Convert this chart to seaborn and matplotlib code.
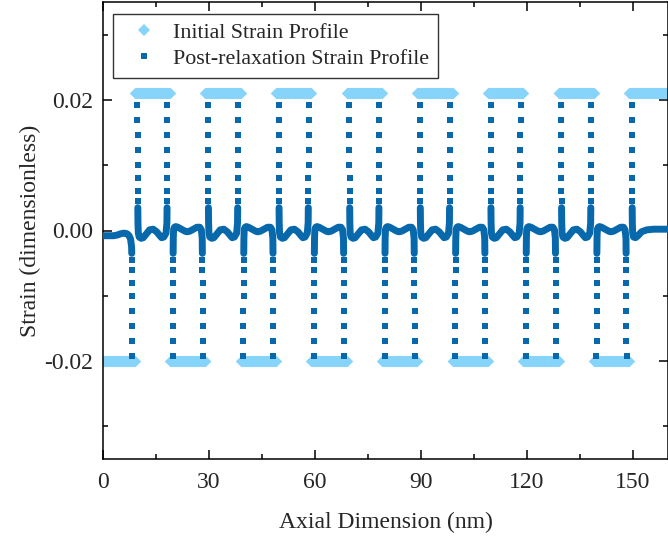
import numpy as np
import pandas as pd
import matplotlib
matplotlib.use("Agg")
import matplotlib.pyplot as plt
import seaborn as sns
from matplotlib.lines import Line2D

# ---- data -------------------------------------------------------------
# axial positions of the layer interfaces (nm)
interfaces = [9.0, 19.0, 29.0, 39.0, 49.0, 59.0, 69.0, 79.0,
              89.0, 99.0, 109.0, 119.0, 129.0, 139.0, 149.0]
x_min, x_max = 0.0, 160.0
# initial (as-grown) strain of the compressive / tensile layers
compressive_strain = -0.020
tensile_strain = 0.021
sample_step = 0.25  # nm between profile samples

# relaxed strain: steep column next to every interface (magnitudes)
spike_offset = 0.74  # nm from the interface
spike_levels = [0.0192, 0.0169, 0.0146, 0.0123, 0.0101, 0.0080, 0.0061, 0.0045]

# relaxed strain inside a tensile layer: (nm from left interface, strain)
tensile_x = [0.86, 0.90, 1.0, 1.25, 1.8, 2.4, 3.3, 4.2, 5.2, 6.2, 7.1, 7.6, 8.2, 8.85, 9.10, 9.14]
tensile_y = [0.0035, 0.0012, -0.0004, -0.0010, -0.0012, -0.0011, -0.0005, 0.0001, 0.0002,
             -0.0002, -0.0008, -0.0011, -0.0010, -0.0004, 0.0012, 0.0035]
# relaxed strain inside a compressive layer
compressive_x = [0.86, 0.90, 1.0, 1.25, 1.6, 2.2, 3.2, 4.2, 4.8, 5.6, 6.6, 7.6, 8.4, 8.85, 9.10, 9.14]
compressive_y = [-0.0035, -0.0012, 0.0002, 0.0005, 0.0006, 0.0005, 0.0002, -0.0001, -0.0002,
                 -0.0001, 0.0002, 0.0005, 0.0005, 0.0001, -0.0012, -0.0035]
# relaxed strain in the first (0 - 9 nm) and last (149 - 160 nm) layers
first_x = [0.0, 1.0, 2.0, 3.0, 4.0, 5.0, 6.0, 6.8, 7.4, 7.8, 8.10, 8.14]
first_y = [-0.0008, -0.0008, -0.0008, -0.0008, -0.0007, -0.0005, -0.0004, -0.0005, -0.0008, -0.0013, -0.0025, -0.0035]
last_x = [149.86, 149.90, 150.0, 150.25, 150.8, 151.5, 152.5, 154.0, 156.0, 158.0, 160.0]
last_y = [0.0035, 0.0012, -0.0004, -0.0010, -0.0011, -0.0008, -0.0002, 0.0001, 0.0002, 0.0002, 0.0002]

# ---- assemble tables ---------------------------------------------------
edges = [x_min] + interfaces + [x_max]
initial_rows = []
for i, (a, b) in enumerate(zip(edges[:-1], edges[1:])):
    level = compressive_strain if i % 2 == 0 else tensile_strain
    for xv in np.arange(a, b + 1e-9, sample_step):
        initial_rows.append((xv, level))
initial = pd.DataFrame(initial_rows, columns=["x", "strain"])

curve_rows = []
curve_rows += [(x, y, 0) for x, y in zip(first_x, first_y)]
for k, a in enumerate(interfaces[:-1]):
    if k % 2 == 0:
        xs, ys = tensile_x, tensile_y
    else:
        xs, ys = compressive_x, compressive_y
    curve_rows += [(a + x, y, k + 1) for x, y in zip(xs, ys)]
curve_rows += [(x, y, len(interfaces)) for x, y in zip(last_x, last_y)]
curve = pd.DataFrame(curve_rows, columns=["x", "strain", "layer"])

spike_rows = []
for k, a in enumerate(interfaces):
    left_sign = -1 if k % 2 == 0 else 1
    for j, lv in enumerate(spike_levels):
        spike_rows.append((a - spike_offset - 0.015 * j, left_sign * lv))
        spike_rows.append((a + spike_offset + 0.015 * j, -left_sign * lv))
spikes = pd.DataFrame(spike_rows, columns=["x", "strain"])

# ---- figure ------------------------------------------------------------
sns.set_theme(style="ticks")
plt.rcParams["font.family"] = ["Liberation Serif", "DejaVu Serif"]

light_blue = "#87D4FA"
dark_blue = "#0868AC"

fig = plt.figure(figsize=(6.68, 5.40), dpi=100)
ax = fig.add_axes([103 / 668, 1 - 459 / 540, 565 / 668, 457 / 540])

sns.scatterplot(data=initial, x="x", y="strain", marker="D", s=34,
                color=light_blue, linewidth=0, ax=ax, zorder=2)
sns.lineplot(data=curve, x="x", y="strain", units="layer", estimator=None,
             sort=False, color=dark_blue, lw=5.0, ax=ax, zorder=3)
sns.scatterplot(data=spikes, x="x", y="strain", marker="s", s=25,
                color=dark_blue, linewidth=0, ax=ax, zorder=3)

ax.set_xlim(x_min, x_max)
ax.set_ylim(-0.035, 0.035)
ax.set_xticks([0, 30, 60, 90, 120, 150])
ax.set_xticks([15, 45, 75, 105, 135], minor=True)
ax.set_yticks([-0.02, 0.0, 0.02])
ax.set_yticks([-0.03, -0.01, 0.01, 0.03], minor=True)
ax.set_yticklabels(["-0.02", "0.00", "0.02"])
ax.tick_params(which="both", direction="in", top=True, right=True,
               width=1.1, labelsize=17, color="black")
ax.tick_params(which="major", length=6.5)
ax.tick_params(which="minor", length=3.6)
ax.tick_params(axis="x", which="major", pad=9)
ax.tick_params(axis="y", which="major", pad=7)
for sp in ax.spines.values():
    sp.set_linewidth(1.1)
    sp.set_color("black")

ax.set_xlabel("Axial Dimension (nm)", fontsize=17, labelpad=14)
ax.set_ylabel("Strain (dimensionless)", fontsize=17, labelpad=2.5)

handles = [
    Line2D([], [], marker="D", ls="none", color=light_blue, ms=5.8, mew=0),
    Line2D([], [], marker="s", ls="none", color=dark_blue, ms=5.0, mew=0),
]
leg = ax.legend(handles, ["Initial Strain Profile", "Post-relaxation Strain Profile"],
                loc="upper left", bbox_to_anchor=(0.0177, 0.974), borderaxespad=0,
                fontsize=15.8, frameon=True, fancybox=False, edgecolor="black",
                handletextpad=0.35, borderpad=0.4, labelspacing=0.25)
leg.get_frame().set_linewidth(1.0)

fig.savefig("out.png", dpi=100)
